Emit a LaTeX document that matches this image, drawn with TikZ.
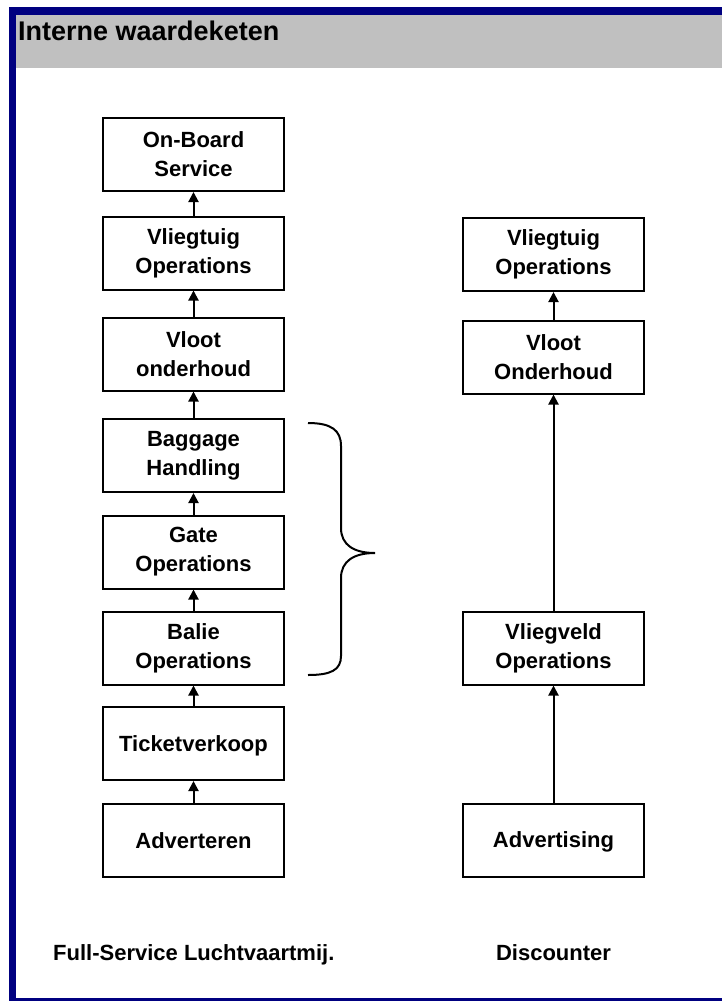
\documentclass[tikz,border=0pt]{standalone}
\usepackage{fontspec}
\setmainfont{Liberation Sans}
\usetikzlibrary{arrows.meta}
\definecolor{navyband}{RGB}{0,0,128}
\definecolor{headgray}{RGB}{192,192,192}
\tikzset{
  stepbox/.style={draw=black, line width=2pt, minimum width=181pt, minimum height=73pt,
    inner sep=0pt, align=center, font=\fontsize{22}{29}\selectfont\bfseries},
  oneline/.style={text depth=0pt},
  flow/.style={line width=2pt, -{Triangle[length=10pt,width=10pt]}},
  lbl/.style={font=\fontsize{22}{29}\selectfont\bfseries, inner sep=0pt},
}
\begin{document}
\begin{tikzpicture}[x=1pt,y=-1pt]
\useasboundingbox (0,0) rectangle (722,1001);
% frame and header
\fill[headgray] (16,15) rectangle (722,68);
\fill[navyband] (9,7) rectangle (722,15);
\fill[navyband] (9,7) rectangle (16,1001);
\fill[navyband] (9,998) rectangle (722,1001);
\node[anchor=base west, inner sep=0pt, font=\fontsize{27}{32}\selectfont\bfseries] (title) at (18,40) {Interne waardeketen};
% left column
\node[stepbox] (onboard) at (193.5,154.5) {On-Board\\Service};
\node[stepbox] (vliegL) at (193.5,253) {Vliegtuig\\Operations};
\node[stepbox] (vlootL) at (193.5,354) {Vloot\\onderhoud};
\node[stepbox] (baggage) at (193.5,455.5) {Baggage\\Handling};
\node[stepbox] (gate) at (193.5,552) {Gate\\Operations};
\node[stepbox] (balie) at (193.5,648) {Balie\\Operations};
\node[stepbox, oneline] (ticket) at (193.5,743.5) {Ticketverkoop};
\node[stepbox, oneline] (advert) at (193.5,840.5) {Adverteren};
% right column
\node[stepbox] (vliegR) at (553.5,254.5) {Vliegtuig\\Operations};
\node[stepbox] (vlootR) at (553.5,357) {Vloot\\Onderhoud};
\node[stepbox] (vliegveld) at (553.5,648) {Vliegveld\\Operations};
\node[stepbox, oneline] (advertising) at (553.5,840) {Advertising};
% arrows left
\draw[flow] (advert) -- (ticket);
\draw[flow] (ticket) -- (balie);
\draw[flow] (balie) -- (gate);
\draw[flow] (gate) -- (baggage);
\draw[flow] (baggage) -- (vlootL);
\draw[flow] (vlootL) -- (vliegL);
\draw[flow] (vliegL) -- (onboard);
% arrows right
\draw[flow] (advertising) -- (vliegveld);
\draw[flow] (vliegveld) -- (vlootR);
\draw[flow] (vlootR) -- (vliegR);
% brace
\draw[line width=2pt] (308,423) .. controls (331,423) and (341,430) .. (341,446)
  -- (341,528) .. controls (341,545) and (354,553) .. (375,553)
  .. controls (354,553) and (341,561) .. (341,578)
  -- (341,656) .. controls (341,670) and (331,675) .. (308,675);
% bottom labels
\node[lbl, anchor=base west] (fullservice) at (53,960) {Full-Service Luchtvaartmij.};
\node[lbl, anchor=base] (discounter) at (553.5,960) {Discounter};
\end{tikzpicture}
\end{document}
